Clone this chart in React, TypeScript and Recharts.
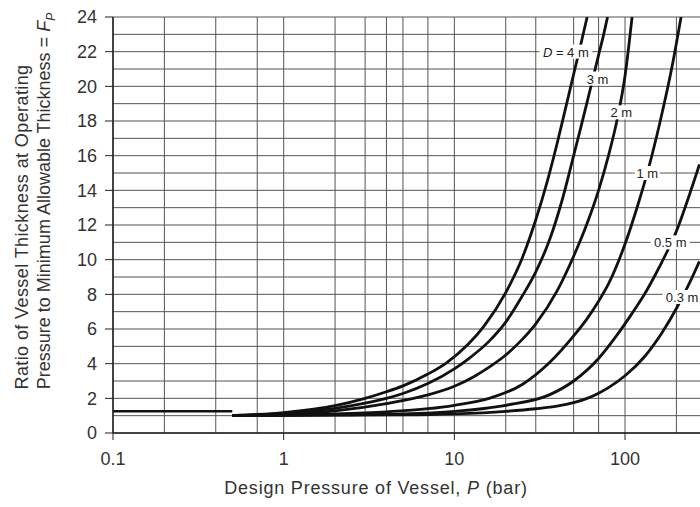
import { LineChart, Line, XAxis, YAxis, CartesianGrid, ReferenceDot } from 'recharts'

const FONT = '"Liberation Sans", Arial, Helvetica, sans-serif'
const INK = '#111'
const GRID = '#555'

const pressureTicks = [0.1, 1, 10, 100]
const ratioTicks = [0, 2, 4, 6, 8, 10, 12, 14, 16, 18, 20, 22, 24]
const pressureGrid = [
  0.1, 0.2, 0.3, 0.4, 0.5, 0.6, 0.7, 0.8, 0.9,
  1, 2, 3, 4, 5, 6, 7, 8, 9,
  10, 20, 30, 40, 50, 60, 70, 80, 90,
  100, 200,
]
const ratioGrid = [0, 1, 2, 3, 4, 5, 6, 7, 8, 9, 10, 11, 12, 13, 14, 15, 16, 17, 18, 19, 20, 21, 22, 23, 24]

// below 0.5 bar the factor is a flat 1.25
const lowPressure = [0.1, 0.5]
const lowRatio = [1.25, 1.25]

// F_P against design pressure (bar), one pair of arrays per vessel diameter
const pressure4m = [0.5, 0.7, 1, 1.5, 2, 3, 4, 5, 7, 9, 12, 15, 20, 25, 30, 35, 40, 45, 50, 55, 60]
const ratio4m = [1.0, 1.07, 1.18, 1.38, 1.58, 2.0, 2.38, 2.72, 3.4, 4.05, 5.1, 6.2, 8.1, 10.1, 12.3, 14.5, 16.7, 18.8, 20.7, 22.4, 24.0]

const pressure3m = [0.5, 1, 2, 3, 4, 5, 7, 10, 12, 16, 20, 25, 30, 36, 43, 50, 55, 60, 65, 70, 75, 79]
const ratio3m = [1.0, 1.13, 1.42, 1.72, 2.0, 2.28, 2.85, 3.7, 4.25, 5.3, 6.4, 7.9, 9.3, 11.1, 13.5, 16.0, 17.6, 19.1, 20.5, 21.8, 23.0, 24.0]

const pressure2m = [0.5, 1, 2, 4, 7, 10, 13, 16, 20, 25, 30, 40, 50, 60, 70, 80, 90, 100, 110]
const ratio2m = [1.0, 1.08, 1.28, 1.7, 2.2, 2.7, 3.25, 3.8, 4.5, 5.4, 6.3, 8.2, 10.2, 12.1, 14.0, 16.0, 18.1, 20.6, 24.0]

const pressure1m = [0.5, 1, 2, 4, 7, 10, 16, 25, 36, 50, 60, 70, 80, 100, 121, 135, 160, 190, 213]
const ratio1m = [1.0, 1.04, 1.1, 1.22, 1.4, 1.6, 2.0, 2.8, 4.05, 5.6, 6.6, 7.6, 8.6, 10.9, 13.4, 15.0, 17.9, 21.3, 24.0]

const pressure05m = [0.5, 2, 5, 10, 20, 36, 50, 70, 89, 110, 130, 150, 175, 203, 232, 273]
const ratio05m = [1.0, 1.04, 1.1, 1.25, 1.6, 2.2, 3.0, 4.3, 5.6, 6.9, 8.0, 9.1, 10.4, 11.8, 13.4, 15.5]

const pressure03m = [0.5, 5, 10, 20, 30, 40, 50, 60, 70, 80, 100, 130, 165, 203, 240, 273]
const ratio03m = [1.0, 1.04, 1.1, 1.25, 1.4, 1.55, 1.75, 2.0, 2.3, 2.62, 3.3, 4.4, 5.8, 7.3, 8.7, 9.9]

// diameter tags sitting on the curves
const tagText = ['D = 4 m', '3 m', '2 m', '1 m', '0.5 m', '0.3 m']
const tagPressure = [45, 69, 95, 135, 184, 216]
const tagRatio = [22.0, 20.45, 18.5, 15.0, 11.0, 7.85]

const zip = (p: number[], f: number[]) => p.map((x, i) => ({ p: x, f: f[i] }))

const curves = [
  zip(lowPressure, lowRatio),
  zip(pressure4m, ratio4m),
  zip(pressure3m, ratio3m),
  zip(pressure2m, ratio2m),
  zip(pressure1m, ratio1m),
  zip(pressure05m, ratio05m),
  zip(pressure03m, ratio03m),
]

function YTitle() {
  return (
    <g fontFamily={FONT} fontSize={18} fill="#333">
      <text transform="translate(28, 227) rotate(-90)" textAnchor="middle" letterSpacing={0.4}>
        Ratio of Vessel Thickness at Operating
      </text>
      <text transform="translate(50, 201) rotate(-90)" textAnchor="middle">
        Pressure to Minimum Allowable Thickness ={' '}
        <tspan fontStyle="italic">F</tspan>
        <tspan fontStyle="italic" fontSize={12} dy={5}>P</tspan>
      </text>
    </g>
  )
}

function XTitle() {
  return (
    <text x={376} y={494} textAnchor="middle" fontFamily={FONT} fontSize={18} fill="#333" letterSpacing={0.8}>
      Design Pressure of Vessel, <tspan fontStyle="italic">P</tspan>
      <tspan dx={6}>(bar)</tspan>
    </text>
  )
}

function Tag({ cx, cy, text }: { cx?: number; cy?: number; text: string }) {
  if (cx == null || cy == null) return null
  const italicD = text.startsWith('D')
  const w = text.length * 7 + 4
  return (
    <g>
      <rect x={cx - w / 2} y={cy - 7} width={w} height={14} fill="#fff" />
      <text x={cx} y={cy + 5} textAnchor="middle" fontFamily={FONT} fontSize={13} fill="#222">
        {italicD ? (
          <>
            <tspan fontStyle="italic">D</tspan>
            {text.slice(1)}
          </>
        ) : (
          text
        )}
      </text>
    </g>
  )
}

export default function App() {
  return (
    <div style={{ position: 'fixed', left: 0, top: 0, width: 700, height: 507, background: '#fff' }}>
      <LineChart width={700} height={507} margin={{ top: 17, right: 0, bottom: 44, left: 53 }}>
        <CartesianGrid
          horizontalValues={ratioGrid}
          verticalValues={pressureGrid}
          stroke={GRID}
          strokeWidth={1}
        />
        <XAxis
          dataKey="p"
          type="number"
          scale="log"
          domain={[0.1, 275]}
          allowDataOverflow
          ticks={pressureTicks}
          tickFormatter={(v: number) => String(v)}
          height={30}
          tickSize={7}
          tickMargin={12}
          axisLine={{ stroke: '#222', strokeWidth: 1.5 }}
          tickLine={{ stroke: '#222' }}
          tick={{ fill: '#333', fontSize: 18, fontFamily: FONT }}
          label={<XTitle />}
        />
        <YAxis
          type="number"
          domain={[0, 24]}
          allowDataOverflow
          ticks={ratioTicks}
          interval={0}
          width={60}
          tickSize={8}
          tickMargin={8}
          axisLine={{ stroke: '#222', strokeWidth: 1.5 }}
          tickLine={{ stroke: '#222' }}
          tick={{ fill: '#333', fontSize: 18, fontFamily: FONT }}
          label={<YTitle />}
        />
        {curves.map((d, i) => (
          <Line
            key={i}
            data={d}
            dataKey="f"
            type="monotone"
            stroke={INK}
            strokeWidth={i === 0 ? 2.5 : 2.8}
            dot={false}
            activeDot={false}
            isAnimationActive={false}
          />
        ))}
        {tagText.map((t, i) => (
          <ReferenceDot
            key={t}
            x={tagPressure[i]}
            y={tagRatio[i]}
            r={0}
            ifOverflow="visible"
            shape={(props: { cx?: number; cy?: number }) => <Tag cx={props.cx} cy={props.cy} text={t} />}
          />
        ))}
      </LineChart>
    </div>
  )
}
